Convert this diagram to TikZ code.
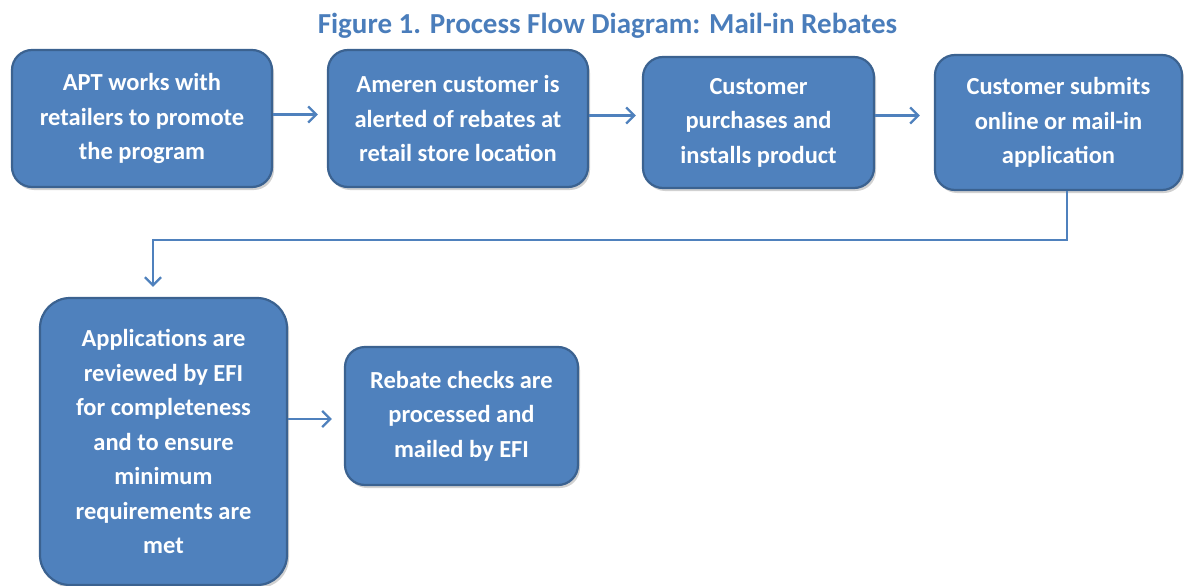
\documentclass[tikz,border=0pt]{standalone}
\usepackage{fontspec}
\setmainfont{Carlito}
\usetikzlibrary{arrows.meta,shadows,calc}
\definecolor{boxfill}{HTML}{4F81BD}
\definecolor{boxline}{HTML}{3B6290}
\definecolor{arrowc}{HTML}{4F81BD}
\definecolor{titlec}{HTML}{4A7DBB}
\tikzset{
  flowbox/.style={rectangle, rounded corners=20pt, fill=boxfill, draw=boxline,
    line width=2.2pt, text=white, align=center, inner sep=0pt,
    font=\bfseries\fontsize{24.5}{34.5}\selectfont,
    drop shadow={shadow xshift=2pt, shadow yshift=-3pt, opacity=0.3, fill=black!60}},
  conn/.style={draw=arrowc, line width=2.4pt,
    -{Straight Barb[length=8pt,width=16pt,line width=2.4pt]}},
  plainline/.style={draw=arrowc, line width=2.4pt}
}
\begin{document}
\begin{tikzpicture}[x=1pt,y=-1pt]
\useasboundingbox (0,0) rectangle (1184,586);
\node[text=titlec, font=\bfseries\fontsize{29}{30}\selectfont, anchor=base] (title) at (607.5,34) {Figure 1. Process Flow Diagram: Mail-in Rebates};
\node[flowbox, minimum width=260pt, minimum height=137pt] (b1) at (142,118.5)
  {APT works with\\retailers to promote\\the program};
\node[flowbox, minimum width=260pt, minimum height=137pt] (b2) at (458,118.5)
  {Ameren customer is\\alerted of rebates at\\retail store location};
\node[flowbox, minimum width=231pt, minimum height=131pt] (b3) at (758.5,122.5)
  {Customer\\purchases and\\installs product};
\node[flowbox, minimum width=247pt, minimum height=135pt] (b4) at (1058.5,122.5)
  {Customer submits\\online or mail-in\\application};
\node[flowbox, rounded corners=30pt, minimum width=247pt, minimum height=287pt] (b5) at (163.5,441.5)
  {Applications are\\reviewed by EFI\\for completeness\\and to ensure\\minimum\\requirements are\\met};
\node[flowbox, minimum width=233pt, minimum height=138pt] (b6) at (461.5,416)
  {Rebate checks are\\processed and\\mailed by EFI};
\coordinate (turn) at (153,240);
\draw[conn, shorten >=9pt] ([yshift=4pt]b1.east) -- ([yshift=4pt]b1.east -| b2.west);
\draw[conn, shorten >=6pt] ([yshift=3pt]b2.east) -- ([yshift=3pt]b2.east -| b3.west);
\draw[conn, shorten >=14pt] ([yshift=7pt]b3.east) -- ([yshift=7pt]b3.east -| b4.west);
\draw[plainline, line join=miter] ([xshift=8.5pt]b4.south) |- (turn);
\draw[conn, shorten >=10pt] ([yshift=1.2pt]turn) -- (turn |- b5.north);
\draw[conn, shorten >=12pt] (b5.east |- 0,419) -- (b6.west |- 0,419);
\end{tikzpicture}
\end{document}
